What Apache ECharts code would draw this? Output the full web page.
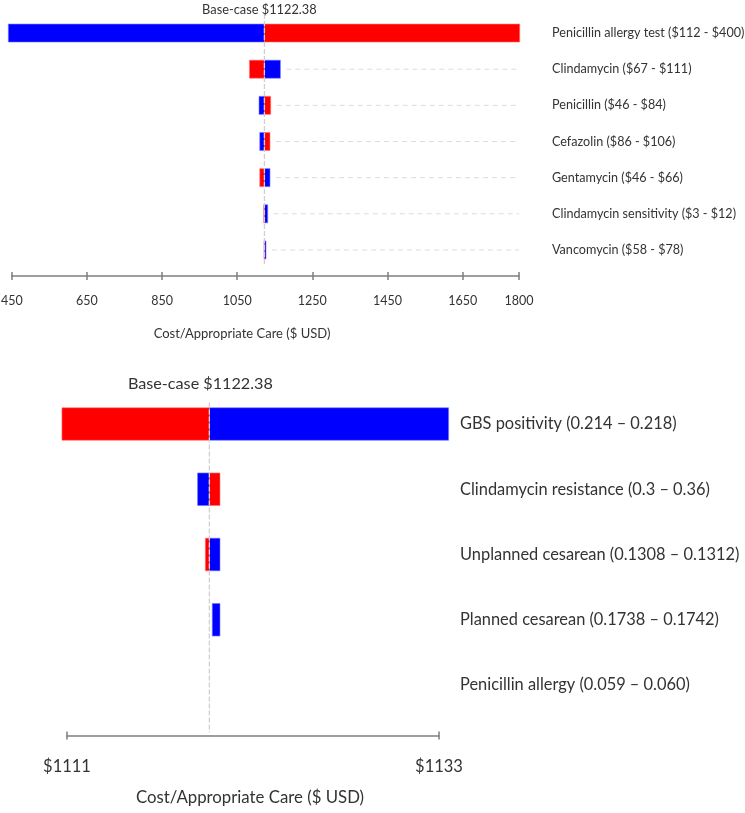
<!DOCTYPE html>
<html><head><meta charset="utf-8">
<script src="https://cdn.jsdelivr.net/npm/echarts@6/dist/echarts.min.js"></script>
<style>html,body{margin:0;padding:0;background:#fff}#c{width:745px;height:813px}</style>
</head><body><div id="c"></div>
<script>
// ---------- top chart data ----------
const topCategories = [
  'Penicillin allergy test ($112 - $400)',
  'Clindamycin ($67 - $111)',
  'Penicillin ($46 - $84)',
  'Cefazolin ($86 - $106)',
  'Gentamycin ($46 - $66)',
  'Clindamycin sensitivity ($3 - $12)',
  'Vancomycin ($58 - $78)'
];
const topBase = 1122.38;
const topBlue = [440.7, 1165.0, 1108.0, 1109.9, 1137.3, 1131.2, 1126.6];
const topRed  = [1802.0, 1082.4, 1139.2, 1137.3, 1109.9, 1120.5, 1121.3];
const topTicks = [450, 650, 850, 1050, 1250, 1450, 1650, 1800];
const topMin = 450, topMax = 1800;

// ---------- bottom chart data ----------
const bottomCategories = [
  'GBS positivity (0.214 \u2013 0.218)',
  'Clindamycin resistance (0.3 \u2013 0.36)',
  'Unplanned cesarean (0.1308 \u2013 0.1312)',
  'Planned cesarean (0.1738 \u2013 0.1742)',
  'Penicillin allergy (0.059 \u2013 0.060)'
];
const bottomBase = 1119.42;           // position of the base-case line on the drawn axis
const bottomBlueFrom = [1119.42, 1118.72, 1119.42, 1119.59, null];
const bottomBlueTo   = [1133.57, 1119.42, 1120.05, 1120.05, null];
const bottomRedFrom  = [1110.70, 1119.42, 1119.18, null, null];
const bottomRedTo    = [1119.42, 1120.05, 1119.42, null, null];
const bottomTicks = [1111, 1133];
const bottomMin = 1111, bottomMax = 1133;

const baseLabel = 'Base-case $1122.38';
const axisTitle = 'Cost/Appropriate Care ($ USD)';

const FONT = 'Lato, "Noto Sans", sans-serif';
const BLUE = '#0000ff', RED = '#ff0000';

// build rows
const topRows = topCategories.map((c, i) => [i,
  Math.min(topBase, topBlue[i]), Math.max(topBase, topBlue[i]),
  Math.min(topBase, topRed[i]), Math.max(topBase, topRed[i])]);
const bottomRows = bottomCategories.map((c, i) => [i,
  bottomBlueFrom[i], bottomBlueTo[i], bottomRedFrom[i], bottomRedTo[i]]);

function tornadoRender(withGuides) {
  return function (params, api) {
    const cat = api.value(0);
    const band = api.size([0, 1])[1];
    const h = band * 0.5;
    const cy = api.coord([0, cat])[1];
    const children = [];
    let maxX = -Infinity;
    const seg = (a, b, color) => {
      const va = api.value(a), vb = api.value(b);
      if (va == null || vb == null || isNaN(va) || isNaN(vb)) return;
      const x1 = api.coord([va, cat])[0], x2 = api.coord([vb, cat])[0];
      maxX = Math.max(maxX, x1, x2);
      if (Math.abs(x2 - x1) < 0.01) return;
      children.push({type: 'rect', shape: {x: Math.min(x1, x2), y: cy - h / 2, width: Math.abs(x2 - x1), height: h},
        style: {fill: color, stroke: color === BLUE ? '#8080ff' : '#ff8080', lineWidth: 0.6}});
    };
    seg(1, 2, BLUE);
    seg(3, 4, RED);
    if (withGuides) {
      const cs = params.coordSys;
      const right = cs.x + cs.width;
      const start = maxX + 6;
      if (start < right - 4) {
        children.unshift({type: 'line', shape: {x1: start, y1: cy, x2: right, y2: cy},
          style: {stroke: '#dcdcdc', lineDash: [5, 4], lineWidth: 1}});
      }
    }
    return {type: 'group', children};
  };
}

function baseRender(a, b, labelY, dx, fontSize) {
  return function (params, api) {
    const cs = params.coordSys;
    const x = api.coord([api.value(0), 0])[0];
    return {type: 'group', children: [
      {type: 'line', shape: {x1: x, y1: cs.y + a, x2: x, y2: cs.y + cs.height + b},
        style: {stroke: '#cfcfcf', lineDash: [5, 2], lineWidth: 1.3}},
      {type: 'text', x: x + dx, y: labelY,
        style: {text: baseLabel, fill: '#333', fontSize: fontSize, fontFamily: FONT,
          align: 'center', verticalAlign: 'middle', textAlign: 'center', textVerticalAlign: 'middle'}}
    ]};
  };
}

const axisLineStyle = {color: '#7f7f7f', width: 1.5};

const option = {
  animation: false,
  backgroundColor: '#fff',
  textStyle: {fontFamily: FONT},
  grid: [
    {left: 11.8, right: 226, top: 15, height: 253, containLabel: false, outerBoundsMode: 'none'},
    {left: 67, right: 306, top: 391.4, height: 326.2, containLabel: false, outerBoundsMode: 'none'}
  ],
  xAxis: [
    {gridIndex: 0, type: 'value', min: topMin, max: topMax, position: 'bottom', offset: 8,
      axisLine: {show: true, lineStyle: axisLineStyle},
      axisTick: {show: true, length: 4, customValues: topTicks, lineStyle: axisLineStyle},
      axisLabel: {customValues: topTicks, color: '#333', fontSize: 12.5, margin: 18, fontFamily: FONT,
        formatter: v => String(v)},
      splitLine: {show: false}},
    {gridIndex: 0, type: 'value', min: topMin, max: topMax, position: 'bottom', offset: 8,
      axisLine: {show: false},
      axisTick: {show: true, inside: true, length: 4, customValues: topTicks, lineStyle: axisLineStyle},
      axisLabel: {show: false}, splitLine: {show: false}},
    {gridIndex: 1, type: 'value', min: bottomMin, max: bottomMax, position: 'bottom', offset: 18,
      axisLine: {show: true, lineStyle: axisLineStyle},
      axisTick: {show: true, length: 4, customValues: bottomTicks, lineStyle: axisLineStyle},
      axisLabel: {customValues: bottomTicks, color: '#333', fontSize: 16.5, margin: 23, fontFamily: FONT,
        formatter: v => '$' + v},
      splitLine: {show: false}},
    {gridIndex: 1, type: 'value', min: bottomMin, max: bottomMax, position: 'bottom', offset: 18,
      axisLine: {show: false},
      axisTick: {show: true, inside: true, length: 4, customValues: bottomTicks, lineStyle: axisLineStyle},
      axisLabel: {show: false}, splitLine: {show: false}}
  ],
  yAxis: [
    {gridIndex: 0, type: 'category', data: topCategories, inverse: true, position: 'right',
      axisLine: {show: false}, axisTick: {show: false}, splitLine: {show: false},
      axisLabel: {color: '#333', fontSize: 12.6, margin: 33, fontFamily: FONT}},
    {gridIndex: 1, type: 'category', data: bottomCategories, inverse: true, position: 'right',
      axisLine: {show: false}, axisTick: {show: false}, splitLine: {show: false},
      axisLabel: {color: '#333', fontSize: 16.4, margin: 21, fontFamily: FONT}}
  ],
  series: [
    {type: 'custom', xAxisIndex: 0, yAxisIndex: 0, clip: false, z: 2,
      renderItem: tornadoRender(true), data: topRows,
      encode: {x: [1, 2, 3, 4], y: 0}},
    {type: 'custom', xAxisIndex: 0, yAxisIndex: 0, clip: false, z: 3,
      renderItem: baseRender(-1, -2, 10, -5, 12.8), data: [[topBase]], encode: {x: 0}},
    {type: 'custom', xAxisIndex: 2, yAxisIndex: 1, clip: false, z: 2,
      renderItem: tornadoRender(false), data: bottomRows,
      encode: {x: [1, 2, 3, 4], y: 0}},
    {type: 'custom', xAxisIndex: 2, yAxisIndex: 1, clip: false, z: 3,
      renderItem: baseRender(11, 15, 384, -9, 16.2), data: [[bottomBase]], encode: {x: 0}}
  ],
  graphic: [
    {type: 'text', x: 242, y: 334,
      style: {text: axisTitle, fill: '#333', fontSize: 13, fontFamily: FONT, align: 'center', verticalAlign: 'middle'}},
    {type: 'text', x: 250, y: 798,
      style: {text: axisTitle, fill: '#333', fontSize: 16.8, fontFamily: FONT, align: 'center', verticalAlign: 'middle'}}
  ]
};

const chart = echarts.init(document.getElementById('c'), null, {renderer: 'canvas'});
chart.setOption(option);
</script>
</body></html>
